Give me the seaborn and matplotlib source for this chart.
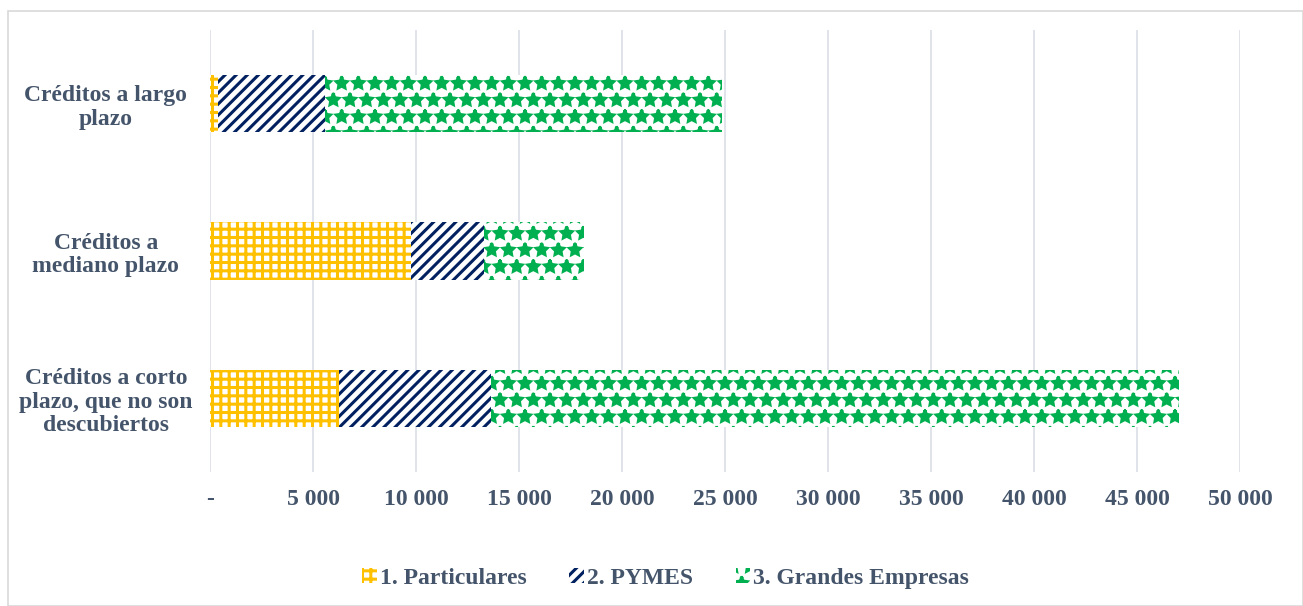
import matplotlib
matplotlib.use("Agg")
import matplotlib.pyplot as plt
import matplotlib.patches as mpatches
import seaborn as sns
import pandas as pd

# data (bottom to top in the picture)
categorias = ["Créditos a largo\nplazo",
              "Créditos a\nmediano plazo",
              "Créditos a corto\nplazo, que no son\ndescubiertos"]
particulares = [390, 9760, 6260]
pymes = [5190, 3540, 7380]
grandes = [19270, 4850, 33400]

series = ["1. Particulares", "2. PYMES", "3. Grandes Empresas"]
colores = ["#FFC000", "#002060", "#00B050"]
hatches = ["++", "///", "*"]
ticks = list(range(0, 50001, 5000))

texto = "#44546A"

sns.set_style("white")
plt.rcParams["font.family"] = ["Liberation Serif", "DejaVu Serif"]
plt.rcParams["font.weight"] = "bold"
plt.rcParams["hatch.linewidth"] = 2.2

fig = plt.figure(figsize=(13.03, 6.06), dpi=100)
ax = fig.add_axes([0.1612, 0.2211, 0.7905, 0.7294])

# cumulative totals, drawn widest first so each layer covers the previous
df = pd.DataFrame({"cat": categorias, "p": particulares, "y": pymes, "g": grandes})
df["c1"] = df["p"]
df["c2"] = df["p"] + df["y"]
df["c3"] = df["c2"] + df["g"]

for col, color, hatch in zip(["c3", "c2", "c1"], colores[::-1], hatches[::-1]):
    n0 = len(ax.patches)
    sns.barplot(data=df, x=col, y="cat", orient="h", ax=ax, width=0.39,
                color="white", saturation=1)
    for bar in ax.patches[n0:]:
        bar.set_facecolor("white")
        bar.set_edgecolor(color)
        bar.set_linewidth(0)
        bar.set_hatch(hatch)
        bar.set_zorder(3)

ax.set_xlim(0, 50000)
ax.set_ylim(2.5, -0.5)
ax.set_xticks(ticks)
ax.set_xticklabels(["-"] + [f"{t:,}".replace(",", " ") for t in ticks[1:]])
ax.set_xlabel("")
ax.set_ylabel("")
ax.grid(axis="x", color="#DDE1E8", linewidth=1.3, zorder=0)
ax.set_axisbelow(True)
for s in ax.spines.values():
    s.set_visible(False)

ax.tick_params(axis="x", length=0, pad=12, labelsize=17, labelcolor=texto)
ax.tick_params(axis="y", length=0, pad=75, labelsize=17, labelcolor=texto)
for lab in ax.get_yticklabels():
    lab.set_horizontalalignment("center")
    lab.set_multialignment("center")
    lab.set_fontweight("bold")
    lab.set_linespacing(1.15)
for lab in ax.get_xticklabels():
    lab.set_fontweight("bold")

handles = [mpatches.Patch(facecolor="white", edgecolor=c, linewidth=0, hatch=h, label=s)
           for s, c, h in zip(series, colores, hatches)]
leg = fig.legend(handles=handles, loc="center", bbox_to_anchor=(0.511, 0.046), ncol=3,
                 frameon=False, fontsize=17, handlelength=0.6, handleheight=0.6,
                 handletextpad=0.15, columnspacing=1.8)
for t in leg.get_texts():
    t.set_color(texto)
    t.set_fontweight("bold")

# outer chart border
fig.patches.append(mpatches.Rectangle((0.006, 0.0), 0.994, 0.982, transform=fig.transFigure,
                                      fill=False, edgecolor="#D9D9D9", linewidth=1.2))

fig.savefig("out.png", dpi=100)
